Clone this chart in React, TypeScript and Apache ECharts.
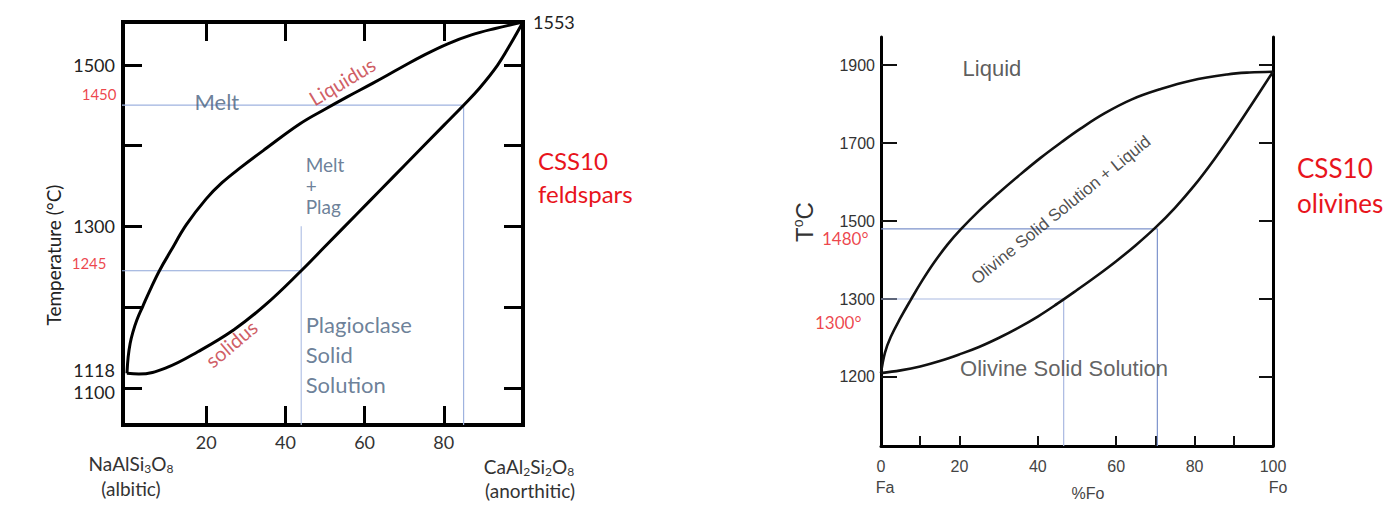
import React, { useEffect, useRef } from 'react';
import * as echarts from 'echarts';

// ---------- Plagioclase (CSS10 feldspars) ----------
const plagLiquidusX = [0, 0.3, 0.8, 1.5, 2.5, 4, 6, 8.3, 11, 15, 20, 24, 28.5, 35, 43.7, 50, 55.5, 62, 69, 75, 81, 87, 93, 100];
const plagLiquidusT = [1118, 1138, 1155, 1169, 1184, 1201, 1223, 1246, 1269, 1302, 1334, 1354, 1372, 1396, 1427, 1445, 1460, 1477, 1496, 1512, 1526, 1537, 1545, 1553];
const plagSolidusX = [0, 3, 10, 18, 27, 35, 44, 50, 58, 64, 70, 80, 85, 89, 93.5, 97, 100];
const plagSolidusT = [1118, 1117, 1125, 1145, 1172, 1203, 1245, 1275, 1315, 1345, 1375, 1425, 1450, 1471, 1499, 1527, 1553];
const plagCompTicks = [20, 40, 60, 80];
const plagTempTicks = [1100, 1200, 1300, 1400, 1500];
const plagTempLabels = [1100, 1118, 1300, 1500];
const plagAnMelt = [1553];
const plagTempMin = 1054;
const plagTempMax = 1553;
const plagGuideT = [1450, 1245];
const plagGuideX = [85, 44];
const plagGuideTopT = [1450, 1300];

// ---------- Olivine (CSS10 olivines) ----------
const oliLiquidusX = [0, 1, 2.5, 5, 7.6, 10.5, 13.5, 17, 20.4, 25, 29.8, 35, 40.7, 46, 50.9, 57, 64, 71.2, 79, 88.3, 94, 100];
const oliLiquidusT = [1110, 1162, 1203, 1252, 1298, 1347, 1393, 1440, 1479, 1526, 1570, 1615, 1662, 1702, 1737, 1776, 1812, 1838, 1860, 1876, 1881, 1883];
const oliSolidusX = [0, 5, 10, 15, 20, 25, 30, 35, 40, 45, 50, 55, 60, 65, 70, 75, 80, 85, 90, 95, 100];
const oliSolidusT = [1110, 1117, 1127, 1141, 1158, 1177, 1200, 1226, 1255, 1288, 1323, 1359, 1397, 1438, 1483, 1534, 1592, 1658, 1730, 1806, 1883];
const oliCompTicks = [10, 20, 40, 60, 70, 80, 90];
const oliCompLabels = [0, 20, 40, 60, 80, 100];
const oliTempTicks = [1100, 1300, 1500, 1700, 1900];
const oliTempTickLabels = ['1200', '1300', '1500', '1700', '1900'];
const oliTempMin = 923;
const oliTempMax = 1972;
const oliGuideT = [1480, 1300];
const oliGuideX = [70.5, 46.6];

const lFont = 'Lato, "Open Sans", sans-serif';
const rFont = '"Liberation Sans", Arial, sans-serif';
const RED = '#e8141c';
const DARKRED = '#c4343c';
const SLATE = '#46607e';

const pairs = (xs: number[], ys: number[]) => xs.map((x, i) => [x, ys[i]]);

function curve(xs: number[], ys: number[], xi: number, yi: number, width: number, color: string) {
  return {
    type: 'line', xAxisIndex: xi, yAxisIndex: yi, data: pairs(xs, ys),
    symbol: 'none', showSymbol: false, smooth: 0.4,
    lineStyle: { color, width }, silent: true, z: 4,
  };
}
function guide(pts: number[][], xi: number, yi: number, color: string) {
  return {
    type: 'line', xAxisIndex: xi, yAxisIndex: yi, data: pts, symbol: 'none', showSymbol: false,
    lineStyle: { color, width: 1.2 }, clip: false, silent: true, z: 2,
  };
}
function notes(items: any[], xi: number, yi: number) {
  return {
    type: 'scatter', xAxisIndex: xi, yAxisIndex: yi, symbolSize: 1, clip: false, silent: true,
    itemStyle: { color: 'rgba(0,0,0,0)' }, z: 5,
    data: items,
  };
}

export default function App() {
  const ref = useRef<HTMLDivElement>(null);
  useEffect(() => {
    if (!ref.current) return;
    const chart = echarts.init(ref.current, undefined, { renderer: 'svg' });

    const pTick = { show: true, inside: true, length: 19, lineStyle: { width: 3, color: '#000' } };

    const option: any = {
      animation: false,
      backgroundColor: '#fff',
      grid: [
        { left: 123, top: 22, width: 400, height: 403, show: true, borderWidth: 4, borderColor: '#000', backgroundColor: 'transparent' },
        { left: 881, top: 37, width: 392, height: 409, show: false },
      ],
      xAxis: [
        {
          gridIndex: 0, type: 'value', min: -1, max: 100, position: 'bottom',
          axisLine: { show: false, onZero: false }, splitLine: { show: false },
          axisTick: { ...pTick, customValues: plagCompTicks },
          axisLabel: { customValues: plagCompTicks, margin: 8, fontSize: 18, color: '#333', fontFamily: lFont },
        },
        {
          gridIndex: 0, type: 'value', min: -1, max: 100, position: 'top',
          axisLine: { show: false, onZero: false }, splitLine: { show: false },
          axisTick: { ...pTick, customValues: plagCompTicks },
          axisLabel: { show: false },
        },
        {
          gridIndex: 1, type: 'value', min: 0, max: 100, position: 'bottom',
          axisLine: { show: true, onZero: false, lineStyle: { color: '#000', width: 3 } }, splitLine: { show: false },
          axisTick: { show: true, inside: true, length: 10, lineStyle: { width: 2, color: '#111' }, customValues: oliCompTicks },
          axisLabel: { customValues: oliCompLabels, margin: 12, fontSize: 16, color: '#444', fontFamily: rFont },
        },
      ],
      yAxis: [
        {
          gridIndex: 0, type: 'value', min: plagTempMin, max: plagTempMax, position: 'left',
          axisLine: { show: false, onZero: false }, splitLine: { show: false },
          axisTick: { ...pTick, customValues: plagTempTicks },
          axisLabel: {
            customValues: plagTempLabels, margin: 8, fontSize: 18, color: '#222', fontFamily: lFont,
            formatter: (v: number) => (v === 1118 ? '{up|1118}' : v === 1100 ? '{dn|1100}' : String(v)),
            rich: {
              up: { fontSize: 18, color: '#222', fontFamily: lFont, padding: [0, 0, 6, 0] },
              dn: { fontSize: 18, color: '#222', fontFamily: lFont, padding: [8, 0, 0, 0] },
            },
          },
        },
        {
          gridIndex: 0, type: 'value', min: plagTempMin, max: plagTempMax, position: 'right',
          axisLine: { show: false, onZero: false }, splitLine: { show: false },
          axisTick: { ...pTick, customValues: plagTempTicks },
          axisLabel: { customValues: plagAnMelt, margin: 10, fontSize: 18, color: '#222', fontFamily: lFont, formatter: (v: number) => String(v) },
        },
        {
          gridIndex: 1, type: 'value', min: oliTempMin, max: oliTempMax, position: 'left',
          axisLine: { show: true, onZero: false, lineStyle: { color: '#000', width: 3 } }, splitLine: { show: false },
          axisTick: { show: true, inside: true, length: 16, lineStyle: { width: 2, color: '#111' }, customValues: oliTempTicks },
          axisLabel: {
            customValues: oliTempTicks, margin: 6, fontSize: 16, color: '#333', fontFamily: rFont,
            formatter: (v: number) => {
              const i = oliTempTicks.indexOf(v);
              return i >= 0 ? oliTempTickLabels[i] : String(v);
            },
          },
        },
        {
          gridIndex: 1, type: 'value', min: oliTempMin, max: oliTempMax, position: 'right',
          axisLine: { show: true, onZero: false, lineStyle: { color: '#000', width: 3 } }, splitLine: { show: false },
          axisTick: { show: true, inside: true, length: 14, lineStyle: { width: 2, color: '#111' }, customValues: oliTempTicks },
          axisLabel: { show: false },
        },
      ],
      series: [
        // plagioclase guides
        guide([[-17, plagGuideT[0]], [plagGuideX[0], plagGuideT[0]], [plagGuideX[0], plagTempMin]], 0, 0, '#9fb3df'),
        guide([[-15, plagGuideT[1]], [plagGuideX[1], plagGuideT[1]]], 0, 0, '#8ea6d8'),
        guide([[plagGuideX[1], plagGuideTopT[1]], [plagGuideX[1], plagTempMin]], 0, 0, '#b3c2e6'),
        curve(plagLiquidusX, plagLiquidusT, 0, 0, 3, '#000'),
        curve(plagSolidusX, plagSolidusT, 0, 0, 3, '#000'),
        notes([
          { value: [-1, plagGuideT[0]], label: { show: true, position: 'left', distance: 6, offset: [0, -11], formatter: String(plagGuideT[0]), color: RED, fontSize: 15, fontFamily: lFont } },
          { value: [-1, plagGuideT[1]], label: { show: true, position: 'left', distance: 16, offset: [0, -8], formatter: String(plagGuideT[1]), color: RED, fontSize: 15, fontFamily: lFont } },
          { value: [22.7, 1455], label: { show: true, position: 'inside', formatter: 'Melt', color: SLATE, fontSize: 22, fontFamily: lFont } },
          { value: [54.3, 1480], label: { show: true, position: 'inside', rotate: 31, formatter: 'Liquidus', color: DARKRED, fontSize: 20, fontFamily: lFont } },
          { value: [26.3, 1155], label: { show: true, position: 'inside', rotate: 40, formatter: 'solidus', color: DARKRED, fontSize: 20, fontFamily: lFont } },
          { value: [45, 1350], label: { show: true, position: 'right', distance: 0, formatter: 'Melt\n+\nPlag', color: SLATE, fontSize: 19, lineHeight: 21, fontFamily: lFont } },
          { value: [45, 1141], label: { show: true, position: 'right', distance: 0, formatter: 'Plagioclase\nSolid\nSolution', color: SLATE, fontSize: 22, lineHeight: 30, fontFamily: lFont } },
        ], 0, 0),
        // olivine guides
        guide([[0, oliGuideT[0]], [oliGuideX[0], oliGuideT[0]], [oliGuideX[0], oliTempMin]], 2, 2, '#7d93cc'),
        guide([[0, oliGuideT[1]], [oliGuideX[1], oliGuideT[1]], [oliGuideX[1], oliTempMin]], 2, 2, '#aab9e2'),
        curve(oliLiquidusX, oliLiquidusT, 2, 2, 2.6, '#111'),
        curve(oliSolidusX, oliSolidusT, 2, 2, 2.6, '#111'),
        notes([
          { value: [0, oliGuideT[0]], label: { show: true, position: 'left', distance: 12, offset: [0, 10], formatter: oliGuideT[0] + '°', color: RED, fontSize: 17, fontFamily: lFont } },
          { value: [0, oliGuideT[1]], label: { show: true, position: 'left', distance: 19, offset: [0, 23], formatter: oliGuideT[1] + '°', color: RED, fontSize: 17, fontFamily: lFont } },
          { value: [28.3, 1892], label: { show: true, position: 'inside', formatter: 'Liquid', color: '#333', fontSize: 22, fontFamily: rFont } },
          { value: [45.9, 1528], label: { show: true, position: 'inside', rotate: 39, formatter: 'Olivine Solid Solution + Liquid', color: '#222', fontSize: 17, fontFamily: rFont } },
          { value: [46.7, 1123], label: { show: true, position: 'inside', formatter: 'Olivine Solid Solution', color: '#3a3a3a', fontSize: 22, fontFamily: rFont } },
        ], 2, 2),
      ],
      graphic: [
        { type: 'text', x: 53, y: 255, rotation: Math.PI / 2, silent: true,
          style: { text: 'Temperature (°C)', fill: '#222', fontSize: 19, fontFamily: lFont, align: 'center', verticalAlign: 'middle' } },
        { type: 'text', x: 538, y: 144, silent: true,
          style: { text: 'CSS10\nfeldspars', fill: RED, fontSize: 24, lineHeight: 33, fontFamily: lFont, align: 'left', verticalAlign: 'top' } },
        { type: 'text', x: 131, y: 463, silent: true,
          style: {
            text: '{a|NaAlSi}{s|3}{a|O}{s|8}', align: 'center', verticalAlign: 'middle',
            rich: {
              a: { fill: '#333', fontSize: 19, fontFamily: lFont, lineHeight: 22 },
              s: { fill: '#333', fontSize: 12, fontFamily: lFont, lineHeight: 12, verticalAlign: 'bottom' },
            },
          } },
        { type: 'text', x: 131, y: 488, silent: true,
          style: { text: '(albitic)', fill: '#333', fontSize: 19, fontFamily: lFont, align: 'center', verticalAlign: 'middle' } },
        { type: 'text', x: 529, y: 466, silent: true,
          style: {
            text: '{a|CaAl}{s|2}{a|Si}{s|2}{a|O}{s|8}', align: 'center', verticalAlign: 'middle',
            rich: {
              a: { fill: '#333', fontSize: 19, fontFamily: lFont, lineHeight: 22 },
              s: { fill: '#333', fontSize: 12, fontFamily: lFont, lineHeight: 12, verticalAlign: 'bottom' },
            },
          } },
        { type: 'text', x: 530, y: 490, silent: true,
          style: { text: '(anorthitic)', fill: '#333', fontSize: 19, fontFamily: lFont, align: 'center', verticalAlign: 'middle' } },
        // olivine side
        { type: 'text', x: 804, y: 222, rotation: Math.PI / 2, silent: true,
          style: {
            text: '{a|T}{s|o}{a|C}', align: 'center', verticalAlign: 'middle',
            rich: {
              a: { fill: '#333', fontSize: 24, fontFamily: rFont, lineHeight: 26 },
              s: { fill: '#333', fontSize: 14, fontFamily: rFont, lineHeight: 14, verticalAlign: 'top' },
            },
          } },
        { type: 'text', x: 1297, y: 150, silent: true,
          style: { text: 'CSS10\nolivines', fill: RED, fontSize: 26, lineHeight: 35, fontFamily: lFont, align: 'left', verticalAlign: 'top' } },
        { type: 'text', x: 885, y: 487, silent: true,
          style: { text: 'Fa', fill: '#444', fontSize: 16, fontFamily: rFont, align: 'center', verticalAlign: 'middle' } },
        { type: 'text', x: 1278, y: 487, silent: true,
          style: { text: 'Fo', fill: '#444', fontSize: 16, fontFamily: rFont, align: 'center', verticalAlign: 'middle' } },
        { type: 'text', x: 1088, y: 493, silent: true,
          style: { text: '%Fo', fill: '#444', fontSize: 16, fontFamily: rFont, align: 'center', verticalAlign: 'middle' } },
      ],
    };
    chart.setOption(option);
    return () => chart.dispose();
  }, []);

  return (
    <div
      ref={ref}
      style={{ position: 'absolute', left: 0, top: 0, width: 1392, height: 507, background: '#fff' }}
    />
  );
}
